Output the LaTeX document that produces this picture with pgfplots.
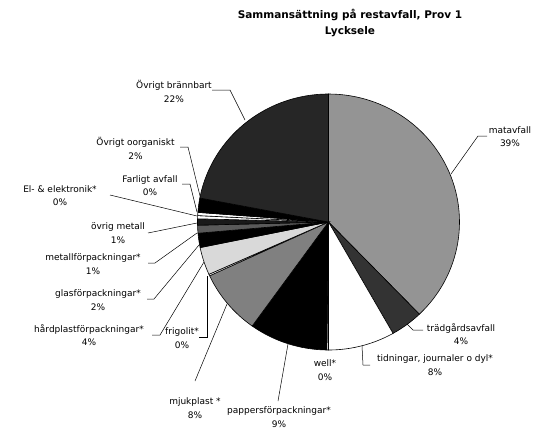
\documentclass[border=0pt]{standalone}
\usepackage{fontspec}
\setmainfont{DejaVu Sans}
\usepackage{pgfplots}
\pgfplotsset{compat=1.18}

% pie: centre (328.5,222), radii 131/128 in picture units; slices in percent, clockwise from 12 o'clock
\newcommand{\slice}[3]{%
  \addplot[#3, draw=black, line width=0.6pt, domain=#1:#2, samples=60, variable=\t]
    ({328.5+131*sin(3.6*\t)}, {222-128*cos(3.6*\t)}) -- (axis cs:328.5,222) -- cycle;}

\begin{document}
\begin{tikzpicture}[
  lbl/.style={font=\fontsize{9}{13.5}\selectfont, align=center, inner sep=0pt},
  ttl/.style={font=\fontsize{10.5}{16}\selectfont\bfseries, align=center, inner sep=0pt},
]
\begin{axis}[
  name=ax,
  hide axis, scale only axis,
  width=538pt, height=434pt,
  xmin=0, xmax=538, ymin=0, ymax=434,
  y dir=reverse, clip=false,
]
  \slice{0}{37.8}{fill=black!42}     % matavfall
  \slice{37.8}{41.8}{fill=black!80}  % trädgårdsavfall
  \slice{41.8}{50.0}{fill=white}     % tidningar
  \slice{50.0}{50.2}{fill=white}     % well
  \slice{50.2}{59.9}{fill=black}     % pappersförpackningar
  \slice{59.9}{68.1}{fill=black!50}  % mjukplast
  \slice{68.1}{68.3}{fill=white}     % frigolit
  \slice{68.3}{71.8}{fill=black!15}  % hårdplast
  \slice{71.8}{73.6}{fill=black}     % glas
  \slice{73.6}{74.6}{fill=black!65}  % metallförp
  \slice{74.6}{75.4}{fill=black!90}  % övrig metall
  \slice{75.4}{75.8}{fill=white}     % el
  \slice{75.8}{76.2}{fill=white}     % farligt
  \slice{76.2}{78.0}{fill=black}     % oorganiskt
  \slice{78.0}{100}{fill=black!85}   % brännbart

  % title
  \node[ttl] at (axis cs:350,23) {Sammansättning på restavfall, Prov 1\\Lycksele};

  % labels
  \node[lbl] at (axis cs:174,91.5) {Övrigt brännbart\\22\%};
  \node[lbl] at (axis cs:135.5,148.5) {Övrigt oorganiskt\\2\%};
  \node[lbl] at (axis cs:150,185.5) {Farligt avfall\\0\%};
  \node[lbl] at (axis cs:60,195.5) {El- \& elektronik*\\0\%};
  \node[lbl] at (axis cs:118,233) {övrig metall\\1\%};
  \node[lbl] at (axis cs:93,264) {metallförpackningar*\\1\%};
  \node[lbl] at (axis cs:98,300) {glasförpackningar*\\2\%};
  \node[lbl] at (axis cs:89,335) {hårdplastförpackningar*\\4\%};
  \node[lbl] at (axis cs:182,338) {frigolit*\\0\%};
  \node[lbl] at (axis cs:195,408) {mjukplast *\\8\%};
  \node[lbl] at (axis cs:279,417) {pappersförpackningar*\\9\%};
  \node[lbl] at (axis cs:325,370) {well*\\0\%};
  \node[lbl] at (axis cs:435,365) {tidningar, journaler o dyl*\\8\%};
  \node[lbl] at (axis cs:461,334) {trädgårdsavfall\\4\%};
  \node[lbl] at (axis cs:510,136.5) {matavfall\\39\%};

  % leader lines
  \begin{scope}[line width=0.5pt]
  \draw (axis cs:212,90) -- (axis cs:230,90) -- (axis cs:245,120);
  \draw (axis cs:180,147) -- (axis cs:188,147) -- (axis cs:200,196);
  \draw (axis cs:182,184) -- (axis cs:190,184) -- (axis cs:197,212);
  \draw (axis cs:110,195) -- (axis cs:197,216);
  \draw (axis cs:148,233) -- (axis cs:197,223);
  \draw (axis cs:148,263) -- (axis cs:155,263) -- (axis cs:197,233);
  \draw (axis cs:147,299) -- (axis cs:154,299) -- (axis cs:199,245);
  \draw (axis cs:152,335) -- (axis cs:160,335) -- (axis cs:204,262);
  \draw (axis cs:199,337) -- (axis cs:207,337) -- (axis cs:207,276);
  \draw (axis cs:195,381) -- (axis cs:227,304);
  \draw (axis cs:278,401) -- (axis cs:288,344);
  \draw (axis cs:370,365) -- (axis cs:363,365) -- (axis cs:362,346);
  \draw (axis cs:423,330) -- (axis cs:413,330) -- (axis cs:407,324);
  \draw (axis cs:487,136) -- (axis cs:478,136) -- (axis cs:451,174);
  \end{scope}
\end{axis}
\pgfresetboundingbox
\useasboundingbox (ax.south west) rectangle (ax.north east);
\end{tikzpicture}
\end{document}
